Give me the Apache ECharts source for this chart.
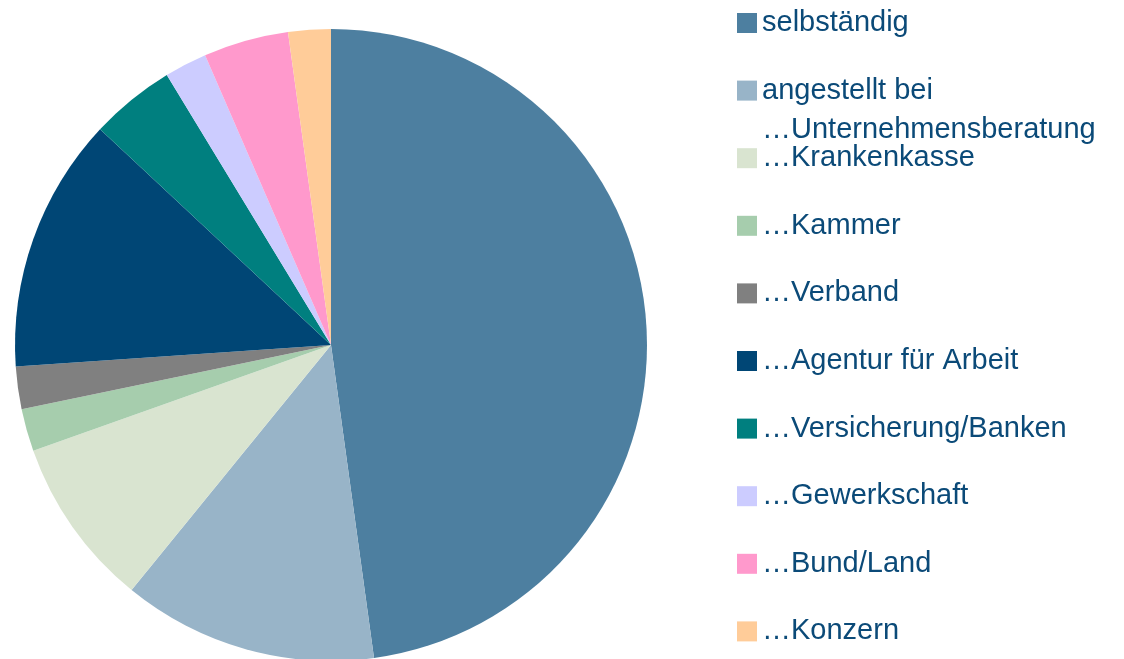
<!DOCTYPE html>
<html lang="de">
  <head>
    <meta charset="UTF-8" />
    <title>Tätigkeit</title>
    <script src="https://cdn.jsdelivr.net/npm/echarts@6.0.0/dist/echarts.min.js"></script>
    <style>
      html, body { margin: 0; padding: 0; background: #fff; }
      #chart { width: 1124px; height: 659px; }
    </style>
  </head>
  <body>
    <div id="chart"></div>

    <script>
      // Kategorien (Legende, Reihenfolge im Uhrzeigersinn ab 12 Uhr)
      var categories = [
        "selbständig",
        "angestellt bei …Unternehmensberatung",
        "…Krankenkasse",
        "…Kammer",
        "…Verband",
        "…Agentur für Arbeit",
        "…Versicherung/Banken",
        "…Gewerkschaft",
        "…Bund/Land",
        "…Konzern"
      ]
      // Anzahl Nennungen, aus dem Bild geschätzt
      var values = [22, 6, 4, 1, 1, 6, 2, 1, 2, 1]
      var colors = [
        "#4d7fa0", "#98b4c8", "#d9e4d0", "#a6cdad", "#808080",
        "#004675", "#007f7f", "#ccccff", "#ff99cc", "#ffcc99"
      ]

      var FONT = "Liberation Sans, Arial, sans-serif"
      var TEXT_COLOR = "#0b4a78"

      var mCharts = echarts.init(document.getElementById("chart"))

      var pieData = categories.map(function (name, i) {
        return { name: name, value: values[i], itemStyle: { color: colors[i] } }
      })

      // im Original bricht der zweite Eintrag um, ohne den Abstand zu vergrößern:
      // Legende zeigt nur die erste Zeile, die zweite Zeile kommt als graphic-Text
      var wrapped = categories[1].split(" …")

      var option = {
        animation: false,
        legend: {
          orient: "vertical",
          left: 737,
          top: 4,
          bottom: 0,
          padding: 0,
          itemWidth: 20,
          itemHeight: 20,
          itemGap: 29.6,
          icon: "rect",
          selectedMode: false,
          data: categories,
          formatter: function (name) {
            return name === categories[1] ? wrapped[0] : name
          },
          textStyle: {
            fontFamily: FONT,
            fontSize: 29,
            lineHeight: 38,
            color: TEXT_COLOR
          }
        },
        graphic: [
          {
            type: "text",
            left: 762,
            top: 115,
            silent: true,
            style: {
              text: "…" + wrapped[1],
              font: "29px " + FONT,
              fill: TEXT_COLOR
            }
          }
        ],
        series: [
          {
            type: "pie",
            center: [331, 345],
            radius: 316,
            startAngle: 90,
            clockwise: true,
            label: { show: false },
            labelLine: { show: false },
            emphasis: { disabled: true },
            itemStyle: { borderWidth: 0 },
            data: pieData
          }
        ]
      }
      mCharts.setOption(option)
    </script>
  </body>
</html>
